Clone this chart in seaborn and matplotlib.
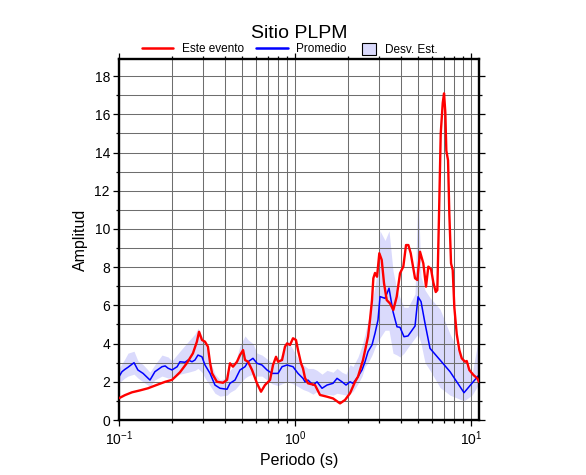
import matplotlib
matplotlib.use("Agg")
import matplotlib.pyplot as plt
import matplotlib.patches as mpatches
from matplotlib.lines import Line2D
from matplotlib.ticker import LogLocator, MultipleLocator, NullFormatter
import seaborn as sns

# --- Este evento (rojo) ---
periodo_evento = [0.100, 0.108, 0.1185, 0.1316, 0.146, 0.160, 0.171, 0.183, 0.200, 0.211,
                  0.222, 0.243, 0.263, 0.277, 0.285, 0.296, 0.308, 0.320, 0.329, 0.338,
                  0.360, 0.390, 0.411, 0.427, 0.444, 0.468, 0.487, 0.507, 0.520, 0.541,
                  0.570, 0.608, 0.641, 0.675, 0.721, 0.750, 0.780, 0.801, 0.844, 0.877,
                  0.901, 0.937, 0.974, 1.013, 1.040, 1.082, 1.110, 1.140, 1.185, 1.299,
                  1.387, 1.520, 1.644, 1.802, 1.924, 2.054, 2.192, 2.280, 2.434, 2.599,
                  2.667, 2.738, 2.786, 2.848, 2.924, 3.013, 3.109, 3.204, 3.319, 3.466,
                  3.619, 3.783, 3.950, 4.124, 4.273, 4.404, 4.544, 4.807, 4.954, 5.131,
                  5.358, 5.550, 5.721, 5.926, 6.108, 6.303, 6.436, 6.581, 6.728, 6.907,
                  7.026, 7.145, 7.240, 7.402, 7.529, 7.699, 7.871, 8.038, 8.295, 8.582,
                  8.857, 9.247, 9.454, 9.779, 10.31, 10.86, 11.10]
amp_evento = [1.14, 1.30, 1.45, 1.55, 1.66, 1.80, 1.90, 2.00, 2.10, 2.30,
              2.50, 2.98, 3.49, 4.10, 4.62, 4.19, 4.10, 3.84, 3.00, 2.44,
              2.00, 1.95, 2.10, 2.97, 2.79, 3.05, 3.40, 3.66, 3.14, 3.05,
              2.62, 1.92, 1.48, 1.83, 2.09, 2.88, 3.31, 3.05, 3.14, 3.84,
              4.01, 3.93, 4.28, 4.19, 3.66, 2.97, 2.70, 2.20, 1.92, 1.83,
              1.31, 1.22, 1.13, 0.87, 1.05, 1.40, 2.00, 2.27, 3.14, 4.36,
              5.24, 6.28, 7.42, 7.70, 7.50, 8.73, 8.38, 7.16, 6.28, 6.10,
              5.76, 6.46, 7.68, 8.03, 9.16, 9.16, 8.73, 7.42, 7.33, 8.81,
              8.20, 6.98, 8.03, 7.90, 7.20, 6.70, 6.80, 10.8, 15.0, 16.6,
              17.1, 16.1, 14.1, 13.6, 10.8, 8.20, 7.85, 5.90, 4.50, 3.66,
              3.23, 3.05, 3.09, 2.62, 2.36, 2.18, 2.00]

# --- Promedio (azul) ---
periodo_prom = [0.100, 0.104, 0.108, 0.1125, 0.1217, 0.128, 0.137, 0.150, 0.160, 0.1755,
                0.183, 0.190, 0.200, 0.214, 0.222, 0.237, 0.247, 0.260, 0.270, 0.281,
                0.296, 0.308, 0.329, 0.351, 0.375, 0.411, 0.427, 0.456, 0.487, 0.520,
                0.541, 0.577, 0.608, 0.649, 0.693, 0.740, 0.801, 0.844, 0.901, 0.974,
                1.040, 1.110, 1.140, 1.185, 1.266, 1.334, 1.424, 1.520, 1.644, 1.733,
                1.849, 1.949, 2.054, 2.136, 2.280, 2.403, 2.499, 2.599, 2.738, 2.848,
                2.962, 3.041, 3.247, 3.421, 3.605, 3.797, 3.950, 4.162, 4.385, 4.807,
                5.000, 5.199, 5.478, 5.848, 6.668, 7.599, 9.125, 11.10]
amp_prom = [2.27, 2.53, 2.65, 2.76, 3.00, 2.62, 2.44, 2.09, 2.53, 2.79,
            2.83, 2.71, 2.62, 2.79, 3.05, 3.02, 3.14, 3.05, 3.14, 3.40,
            3.31, 2.88, 2.44, 1.83, 1.66, 1.61, 1.92, 2.09, 2.62, 2.79,
            3.05, 3.23, 2.97, 2.88, 2.62, 2.44, 2.44, 2.79, 2.88, 2.79,
            2.44, 2.18, 2.00, 2.09, 1.83, 2.00, 1.66, 1.83, 1.92, 2.18,
            2.00, 1.83, 2.00, 1.92, 2.27, 2.62, 3.05, 3.58, 3.93, 4.54,
            5.24, 6.46, 6.37, 6.90, 5.67, 4.88, 4.85, 4.36, 4.40, 4.92,
            6.45, 6.20, 5.06, 3.75, 3.14, 2.53, 1.43, 2.36]

# --- Desviacion estandar (banda) ---
periodo_desv = [0.100, 0.108, 0.1125, 0.1217, 0.128, 0.137, 0.150, 0.160, 0.1755, 0.190,
                0.200, 0.222, 0.247, 0.270, 0.281, 0.296, 0.308, 0.329, 0.351, 0.375,
                0.411, 0.427, 0.456, 0.487, 0.520, 0.541, 0.577, 0.608, 0.649, 0.693,
                0.740, 0.801, 0.844, 0.901, 0.974, 1.040, 1.110, 1.185, 1.266, 1.334,
                1.424, 1.520, 1.644, 1.733, 1.849, 1.949, 2.054, 2.136, 2.280, 2.403,
                2.499, 2.599, 2.738, 2.848, 2.962, 3.041, 3.247, 3.421, 3.605, 3.797,
                3.950, 4.162, 4.385, 4.807, 5.000, 5.199, 5.478, 5.848, 6.668, 7.599,
                9.125, 10.13, 11.10]
desv_sup = [2.7, 3.2, 3.5, 3.6, 3.1, 2.9, 2.5, 2.9, 3.4, 3.3,
            3.1, 3.6, 4.1, 4.5, 4.8, 4.4, 4.0, 3.1, 2.4, 2.1,
            2.2, 2.6, 2.9, 3.9, 4.4, 4.2, 4.0, 3.5, 3.4, 3.2,
            3.0, 3.0, 3.5, 4.2, 3.7, 3.2, 2.9, 2.7, 2.7, 2.6,
            2.4, 2.6, 2.5, 2.7, 2.5, 2.4, 2.9, 2.8, 3.3, 3.9,
            4.5, 5.2, 6.2, 7.0, 8.0, 9.9, 9.4, 9.9, 7.8, 6.8,
            6.4, 5.9, 5.9, 6.6, 12.2, 7.5, 6.8, 6.4, 5.8, 4.5,
            3.0, 2.4, 4.4]
desv_inf = [1.95, 2.2, 2.3, 2.4, 2.2, 2.0, 1.75, 2.1, 2.3, 2.2,
            2.2, 2.4, 2.5, 2.6, 2.7, 2.5, 2.2, 1.8, 1.4, 1.25,
            1.3, 1.45, 1.6, 1.9, 2.2, 2.3, 2.4, 2.3, 2.3, 2.1,
            1.9, 1.8, 1.9, 2.0, 1.9, 1.75, 1.6, 1.5, 1.35, 1.5,
            1.3, 1.35, 1.3, 1.4, 1.35, 1.3, 1.4, 1.5, 1.9, 2.3,
            2.8, 3.0, 3.4, 3.8, 4.1, 4.3, 4.7, 4.7, 3.5, 3.4,
            3.3, 3.5, 3.8, 4.3, 4.5, 4.0, 3.0, 2.6, 1.7, 1.3,
            1.0, 1.3, 1.9]

banda_color = "#dadafc"

sns.set_theme(style="ticks")
plt.rcParams["font.family"] = ["Liberation Sans", "DejaVu Sans"]
plt.rcParams["mathtext.fontset"] = "custom"
plt.rcParams["mathtext.rm"] = "Liberation Sans"
plt.rcParams["mathtext.it"] = "Liberation Sans:italic"
plt.rcParams["mathtext.bf"] = "Liberation Sans:bold"
plt.rcParams["text.color"] = "black"
plt.rcParams["axes.labelcolor"] = "black"
plt.rcParams["xtick.color"] = "black"
plt.rcParams["ytick.color"] = "black"

fig = plt.figure(figsize=(5.86, 4.75), dpi=100)
ax = fig.add_axes([119 / 586, 55 / 475, 360 / 586, 361 / 475])

ax.fill_between(periodo_desv, desv_inf, desv_sup, color=banda_color, lw=0, zorder=0.3)
sns.lineplot(x=periodo_prom, y=amp_prom, color="blue", lw=1.1, ax=ax, zorder=2.5)
sns.lineplot(x=periodo_evento, y=amp_evento, color="red", lw=1.7, ax=ax, zorder=3)

ax.set_xscale("log")
ax.set_xlim(0.1, 11.1)
ax.set_ylim(0, 18.9)
ax.xaxis.set_major_locator(LogLocator(base=10))
ax.xaxis.set_minor_locator(LogLocator(base=10, subs=range(2, 10)))
ax.xaxis.set_minor_formatter(NullFormatter())
ax.yaxis.set_major_locator(MultipleLocator(2))
ax.yaxis.set_minor_locator(MultipleLocator(1))

ax.set_axisbelow(True)
ax.grid(True, which="both", color="#6e6e6e", lw=0.75)

for sp in ax.spines.values():
    sp.set_linewidth(1.7)
    sp.set_color("black")

ax.tick_params(which="both", direction="out", top=True, right=True,
               labelsize=10, width=0.9, pad=2)
ax.tick_params(which="major", length=4.5)
ax.tick_params(which="minor", length=2.5)

ax.set_xlabel("Periodo (s)", fontsize=11.5, labelpad=4)
ax.set_ylabel("Amplitud", fontsize=11.5, labelpad=5)

fig.text(299 / 586, 1 - 33 / 475, "Sitio PLPM", ha="center", va="center", fontsize=14)

# leyenda: lineas y caja en dos bloques
ley_y = 1 - 49.5 / 475
lineas = [Line2D([], [], color="red", lw=1.8), Line2D([], [], color="blue", lw=1.8)]
fig.legend(lineas, ["Este evento", "Promedio"], ncol=2, loc="center left",
           bbox_to_anchor=(141.5 / 586, ley_y), frameon=False, fontsize=8.5,
           handlelength=2.7, handletextpad=0.72, columnspacing=1.0, borderpad=0,
           borderaxespad=0)
caja = [mpatches.Patch(facecolor=banda_color, edgecolor="black", lw=0.8)]
fig.legend(caja, ["Desv. Est."], loc="center left",
           bbox_to_anchor=(361.5 / 586, ley_y), frameon=False, fontsize=8.5,
           handlelength=1.2, handleheight=1.2, handletextpad=0.78, borderpad=0,
           borderaxespad=0)

fig.savefig("out.png", dpi=100)
